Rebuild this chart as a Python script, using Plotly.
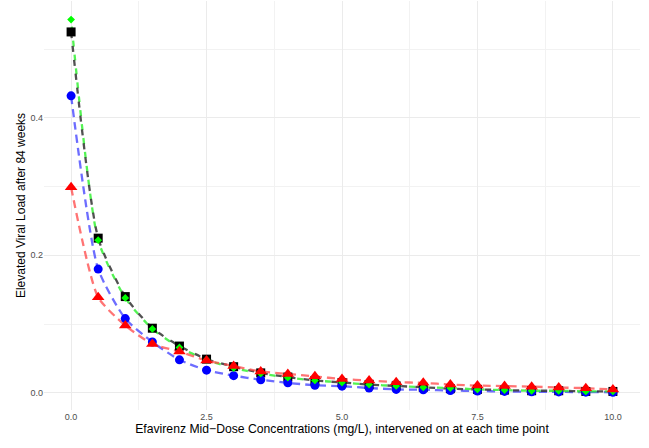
import plotly.graph_objects as go

x_vals = [0, 0.5, 1, 1.5, 2, 2.5, 3, 3.5, 4, 4.5, 5, 5.5, 6, 6.5, 7, 7.5, 8, 8.5, 9, 9.5, 10]

black_vals = [0.525, 0.225, 0.140, 0.094, 0.068, 0.049, 0.038, 0.029, 0.023, 0.018, 0.015,
              0.012, 0.010, 0.008, 0.006, 0.005, 0.004, 0.003, 0.003, 0.002, 0.002]
green_vals = [0.543, 0.222, 0.138, 0.093, 0.066, 0.048, 0.036, 0.028, 0.022, 0.018, 0.015,
              0.012, 0.010, 0.008, 0.007, 0.005, 0.004, 0.003, 0.003, 0.002, 0.002]
blue_vals = [0.432, 0.180, 0.108, 0.074, 0.048, 0.033, 0.025, 0.019, 0.0145, 0.011, 0.0097,
             0.007, 0.005, 0.0044, 0.0034, 0.0026, 0.002, 0.0016, 0.0013, 0.001, 0.0008]
red_vals = [0.299, 0.139, 0.098, 0.071, 0.060, 0.047, 0.039, 0.031, 0.0275, 0.024, 0.020,
            0.018, 0.0155, 0.0145, 0.012, 0.0106, 0.0098, 0.009, 0.0077, 0.0068, 0.0048]

x_ticks = [0, 2.5, 5, 7.5, 10]
x_tick_labels = ["0.0", "2.5", "5.0", "7.5", "10.0"]
y_ticks = [0, 0.2, 0.4]
y_tick_labels = ["0.0", "0.2", "0.4"]

series = [
    (blue_vals, "rgba(60,60,255,0.75)", "#0000ff", "circle", 9, "8px,5px"),
    (green_vals, "rgba(40,240,40,0.8)", "#00ff00", "diamond", 6, "0px,7px,6px,1px"),
    (black_vals, "rgba(50,50,50,0.85)", "#000000", "square", 9, "6px,8px"),
    (red_vals, "rgba(255,70,70,0.75)", "#ff0000", "triangle-up", 11, "8px,5px"),
]

fig = go.Figure()
for vals, lc, mc, sym, sz, dash in series:
    fig.add_trace(go.Scatter(
        x=x_vals, y=vals, mode="lines",
        line=dict(color=lc, width=2.3, dash=dash, shape="spline", smoothing=0.6),
        showlegend=False, hoverinfo="skip"))
marker_order = [series[2], series[0], series[1], series[3]]
for vals, lc, mc, sym, sz, dash in marker_order:
    fig.add_trace(go.Scatter(
        x=x_vals, y=vals, mode="markers",
        marker=dict(color=mc, symbol=sym, size=sz, line=dict(width=0)),
        showlegend=False))

fig.update_layout(
    width=649, height=448,
    margin=dict(l=44, r=9, t=1, b=38),
    paper_bgcolor="white", plot_bgcolor="white",
    font=dict(family="Liberation Sans, Arial, sans-serif", color="#000000"),
    xaxis=dict(
        range=[-0.5, 10.5], tickvals=x_ticks, ticktext=x_tick_labels,
        showgrid=True, gridcolor="#ebebeb", gridwidth=1.1, zeroline=False,
        showline=False, ticks="", tickfont=dict(size=9, color="#4d4d4d"),
        automargin=False,
        minor=dict(tickvals=[1.25, 3.75, 6.25, 8.75], showgrid=True, gridcolor="#f2f2f2", gridwidth=0.6),
        title=dict(text="Efavirenz Mid−Dose Concentrations (mg/L), intervened on at each time point",
                   font=dict(size=12.2), standoff=2),
    ),
    yaxis=dict(
        range=[-0.025, 0.57], tickvals=y_ticks, ticktext=y_tick_labels,
        showgrid=True, gridcolor="#ebebeb", gridwidth=1.1, zeroline=False,
        showline=False, ticks="", tickfont=dict(size=9, color="#4d4d4d"),
        automargin=False,
        minor=dict(tickvals=[0.1, 0.3, 0.5], showgrid=True, gridcolor="#f2f2f2", gridwidth=0.6),
        title=dict(text="Elevated Viral Load after 84 weeks", font=dict(size=12), standoff=2),
    ),
)

fig.write_html("out.html", config={"displayModeBar": False},
               post_script="document.body.style.margin='0';")
